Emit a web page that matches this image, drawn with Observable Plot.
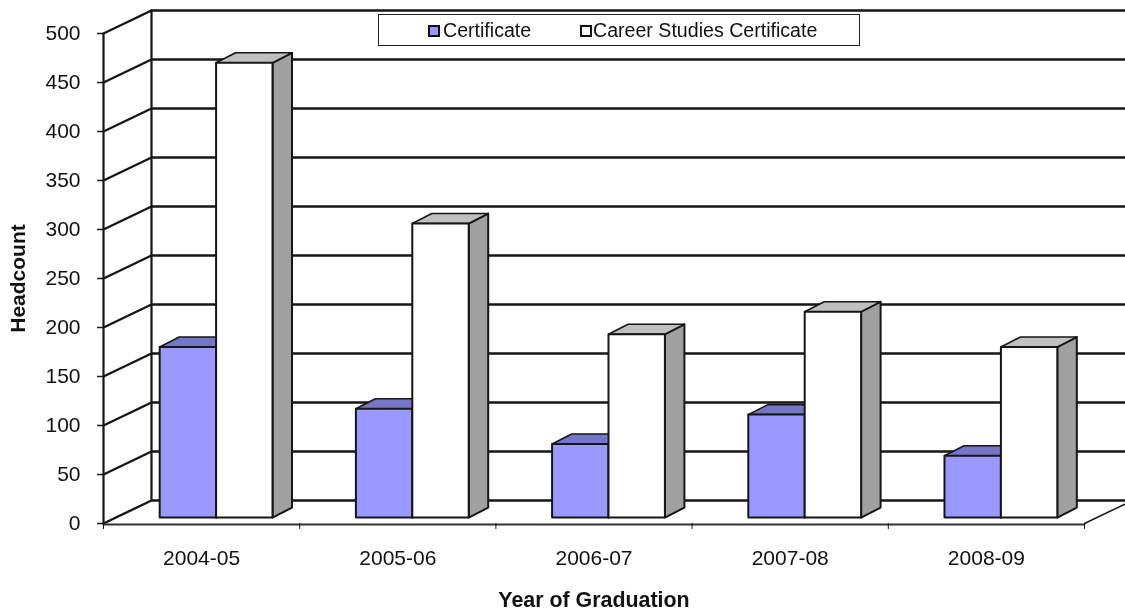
<!DOCTYPE html>
<html>
<head>
<meta charset="utf-8">
<script src="https://cdn.jsdelivr.net/npm/d3@7"></script>
<script src="https://cdn.jsdelivr.net/npm/@observablehq/plot@0.6"></script>
<style>
html,body{margin:0;padding:0;background:#fff;overflow:hidden}
#wrap{position:relative;width:1125px;height:613px;font-family:"Liberation Sans",Arial,sans-serif;color:#111;filter:blur(0.45px)}
#legend{position:absolute;left:378px;top:14px;width:482px;height:32px;box-sizing:border-box;border:1px solid #222;background:#fff;font-size:19.6px;line-height:31px}
#legend span.t{position:absolute;top:0}
#legend span.s{position:absolute;top:10px;width:12px;height:12px;box-sizing:border-box;border:2.5px solid #111}
</style>
</head>
<body>
<div id="wrap"></div>
<script>
const years = ["2004-05","2005-06","2006-07","2007-08","2008-09"];
const certificate = [174, 111, 75, 105, 63];
const careerStudies = [464, 300, 187, 210, 174];
const yTicks = [0,50,100,150,200,250,300,350,400,450,500];
const seriesNames = ["Certificate","Career Studies Certificate"];

const ink = "#161616";
// oblique projection, in data units of the x (category index) and y (headcount) scales
const wallX = 0.2446, wallY = 23.5;
const barW = 0.2875, barShift = 0.0739, depthX = 0.0994, depthY = 10.2, baseY = 6.1;

const idx = years.map((_, i) => i);
function poly(id, pts){ return pts.map(([x,y]) => ({id,x,y})); }
function faces(values, series){
  const front=[], top=[], side=[];
  values.forEach((v,i)=>{
    const l = i + 0.5 + barShift + (series-1)*barW, r = l + barW;
    const b = baseY, t = baseY + v;
    front.push(...poly(i,[[l,b],[r,b],[r,t],[l,t],[l,b]]));
    top.push(...poly(i,[[l,t],[r,t],[r+depthX,t+depthY],[l+depthX,t+depthY],[l,t]]));
    side.push(...poly(i,[[r,b],[r+depthX,b+depthY],[r+depthX,t+depthY],[r,t],[r,b]]));
  });
  return {front,top,side};
}
const faceMarks = (f, cFront, cTop, cSide) => [
  Plot.line(f.side,{x:"x",y:"y",z:"id",fill:cSide,stroke:ink,strokeWidth:2,curve:"linear"}),
  Plot.line(f.top,{x:"x",y:"y",z:"id",fill:cTop,stroke:ink,strokeWidth:1.6,curve:"linear"}),
  Plot.line(f.front,{x:"x",y:"y",z:"id",fill:cFront,stroke:ink,strokeWidth:2,curve:"linear"})
];

const end = years.length;
const grid = yTicks.flatMap(v => poly(v,[[0,v],[wallX,v+wallY],[end+wallX,v+wallY]]));

const chart = Plot.plot({
  width:1125, height:613,
  marginLeft:103, marginRight:41, marginTop:33, marginBottom:90,
  style:{fontFamily:'"Liberation Sans",Arial,sans-serif',background:"#fff",color:"#111"},
  x:{type:"linear",domain:[0,end],range:[103,1084]},
  y:{type:"linear",domain:[0,500],range:[523,33]},
  marks:[
    Plot.line(grid,{x:"x",y:"y",z:"id",stroke:ink,strokeWidth:2.4,curve:"linear"}),
    Plot.line(poly(0,[[wallX,wallY],[wallX,500+wallY]]),{x:"x",y:"y",stroke:ink,strokeWidth:2.2}),
    Plot.line(poly(0,[[0,0],[0,500]]),{x:"x",y:"y",stroke:ink,strokeWidth:2.2}),
    Plot.line(poly(0,[[end,0],[end+wallX,wallY]]),{x:"x",y:"y",stroke:ink,strokeWidth:1.5}),
    ...faceMarks(faces(certificate,0),"#9999ff","#7676c8","#7676c8"),
    ...faceMarks(faces(careerStudies,1),"#ffffff","#c0c0c0","#a0a0a0"),
    Plot.line(poly(0,[[0,-1],[end,-1]]),{x:"x",y:"y",stroke:"#333",strokeWidth:2}),
    Plot.axisY({ticks:yTicks,tickSize:6,tickPadding:17,fontSize:21,label:null,stroke:ink,strokeWidth:1.5}),
    Plot.axisX({ticks:d3.range(0,end+1),tickSize:6,tickFormat:()=>"",label:null,stroke:ink,strokeWidth:1}),
    Plot.axisX({ticks:idx.map(i=>i+0.5),tickSize:0,tickPadding:27,fontSize:21,tickFormat:d=>years[d-0.5],label:null}),
    Plot.text(["Year of Graduation"],{frameAnchor:"bottom",dy:83,fontSize:21.4,fontWeight:"bold",fill:"#111"}),
    Plot.text(["Headcount"],{frameAnchor:"left",textAnchor:"middle",dx:-85,rotate:-90,fontSize:21,fontWeight:"bold",fill:"#111"})
  ]
});
const wrap = document.getElementById("wrap");
wrap.appendChild(chart);
const legend = document.createElement("div");
legend.id = "legend";
legend.innerHTML =
  `<span class="s" style="left:49px;background:#9999ff"></span><span class="t" style="left:64px">${seriesNames[0]}</span>`+
  `<span class="s" style="left:201px;background:#fff"></span><span class="t" style="left:214px">${seriesNames[1]}</span>`;
wrap.appendChild(legend);
</script>
</body>
</html>
